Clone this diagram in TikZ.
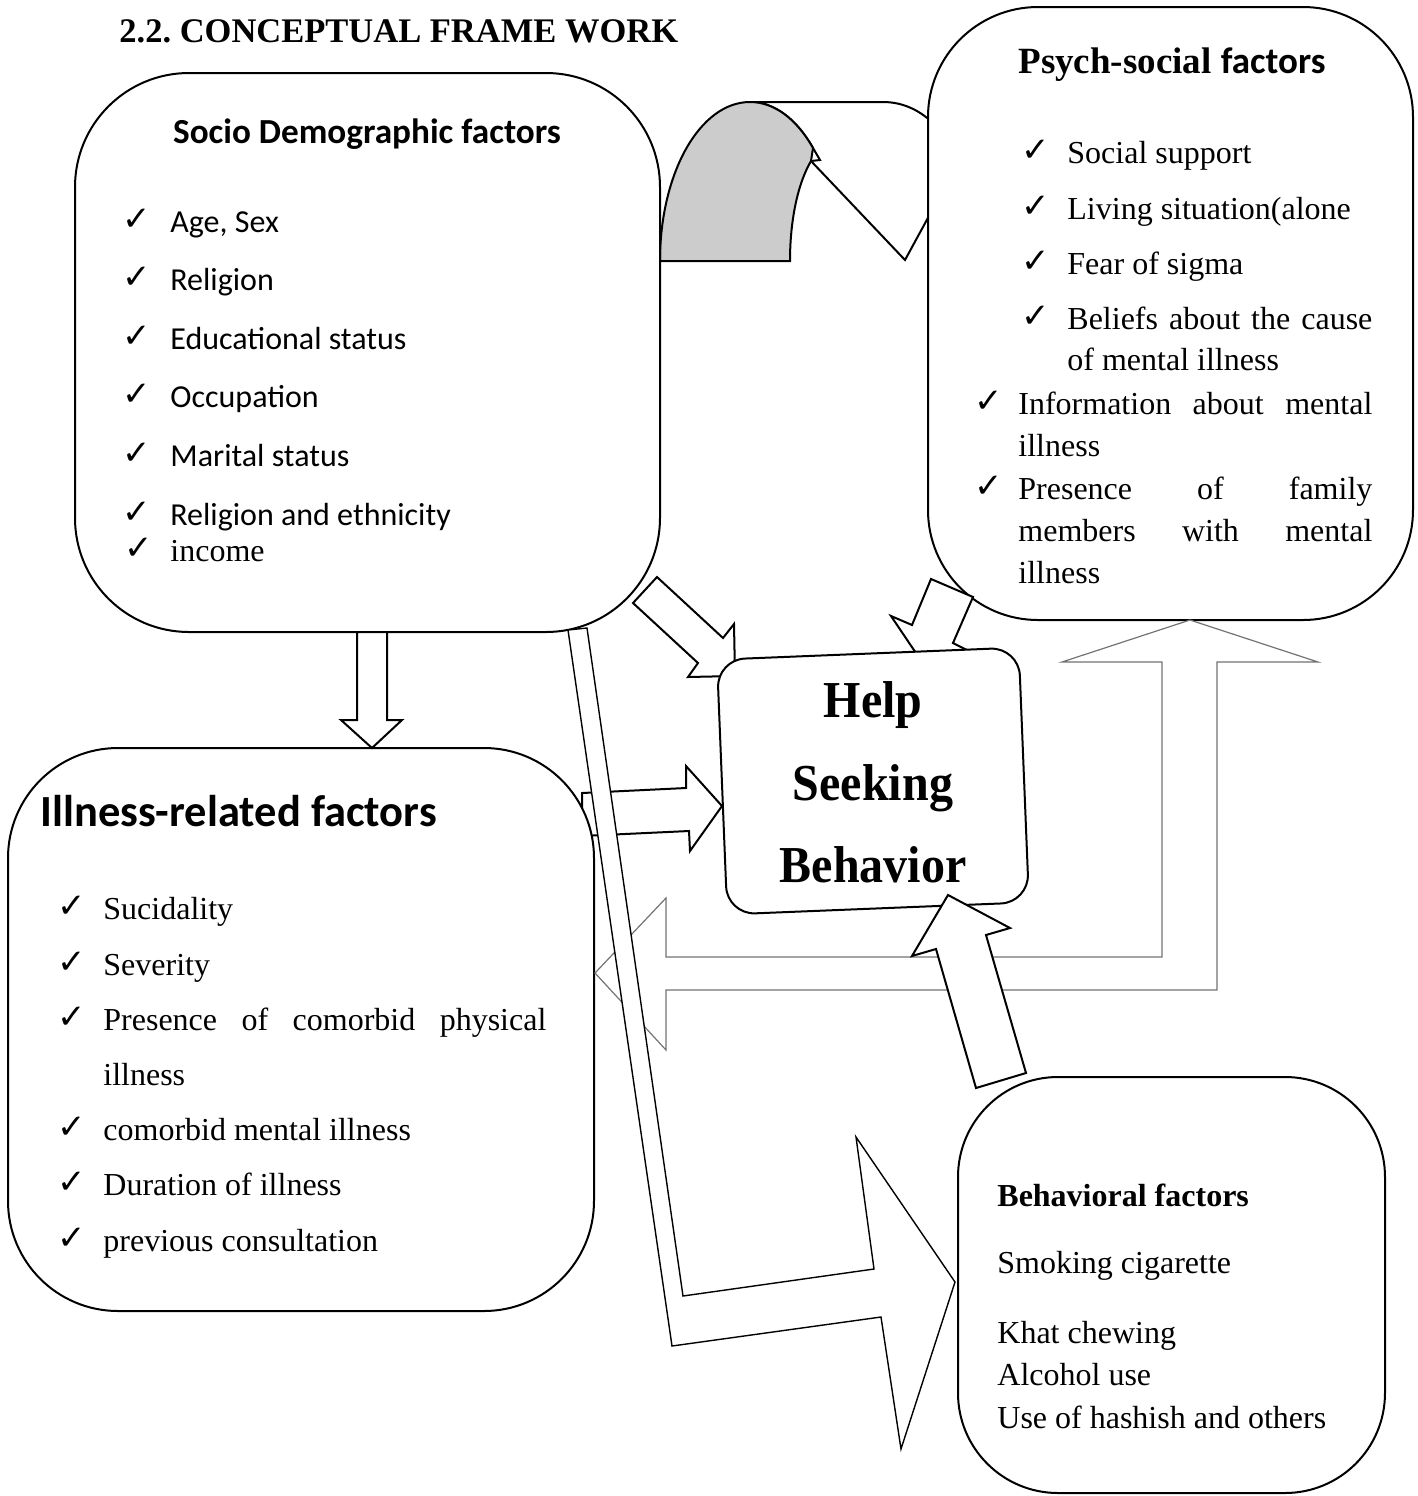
\documentclass[tikz,border=0pt]{standalone}
\usepackage{fontspec}
\usepackage{graphicx}
\setmainfont{Liberation Serif}
\newfontfamily\calibri{Carlito}
\newfontfamily\symfont{DejaVu Sans}
\frenchspacing
\begin{document}
\begin{tikzpicture}[x=0.5pt,y=-0.5pt,
  roundbox/.style={draw, line width=1pt, fill=white, inner sep=0pt},
  blockarrow/.style={draw, line width=1pt, fill=white, line join=miter},
  slimarrow/.style={draw, line width=0.7pt, fill=white, line join=miter},
  grayarrow/.style={draw=black!55, line width=0.6pt, fill=white},
  txt/.style={inner sep=0pt, anchor=base west, font=\fontsize{16}{19}\selectfont},
  ctxt/.style={inner sep=0pt, anchor=base west, font=\calibri\fontsize{16}{19}\selectfont},
  chk/.style={inner sep=0pt, anchor=base west, font=\symfont\fontsize{17}{19}\selectfont},
  helptxt/.style={inner sep=0pt, anchor=base, font=\bfseries\fontsize{24}{28}\selectfont},
]
\useasboundingbox (0,0) rectangle (1418,1496);

% curved arrow at the top
\path[blockarrow] (750,102) -- (883,102) .. controls (905,102) and (922,112) .. (935,125)
  -- (960,159) -- (905,260) -- (811,161) -- (820,160) -- (813,148)
  .. controls (796,118) and (773.5,102) .. (750,102) -- cycle;
\path[draw, line width=1pt, fill=black!20] (660,261) .. controls (660,173) and (700,102) .. (750,102)
  .. controls (773.5,102) and (796,118) .. (813,148) -- (811,161)
  .. controls (797.5,184) and (790,221) .. (790,261) -- cycle;

% arrow from illness box to help (partly under the illness box)
\path[blockarrow] (582,793) -- (686,788) -- (686,766) -- (722,806) -- (690,851) -- (689,831) -- (582,836) -- cycle;

% boxes
\node[roundbox, rounded corners=57pt, minimum width=292.5pt, minimum height=279.5pt] (socio) at (367.5,352.5) {};
\node[roundbox, rounded corners=55pt, minimum width=242.5pt, minimum height=306.5pt] (psych) at (1170.5,313.5) {};
\node[roundbox, rounded corners=55pt, minimum width=293pt, minimum height=281.5pt] (illness) at (301,1029.5) {};
\node[roundbox, rounded corners=50pt, minimum width=213.5pt, minimum height=208pt] (behav) at (1171.5,1285) {};

% gray feedback arrow
\path[grayarrow] (1190,620) -- (1318,662) -- (1217,662) -- (1217,990) -- (666,990) -- (666,1050)
  -- (595,973) -- (666,898) -- (666,957) -- (1162,957) -- (1162,662) -- (1062,662) -- cycle;

% long bent arrow to behavioral factors
\path[slimarrow] (568,630) -- (587,628) -- (683,1296) -- (874,1269) -- (856,1137) -- (955,1282)
  -- (901,1449) -- (881,1317) -- (672,1346) -- cycle;

% down arrow socio -> illness
\path[blockarrow] (357,632) -- (387,632) -- (387,720) -- (402,720) -- (372,748) -- (341,720) -- (357,720) -- cycle;

% diagonal arrow socio -> help
\path[blockarrow] (657,577) -- (723,638) -- (734,624) -- (735,676) -- (688,677) -- (698,663) -- (633,603) -- cycle;

% psych -> help
\path[blockarrow] (931,579) -- (973,597) -- (953,643) -- (973,653) -- (922,662) -- (891,616) -- (912,625) -- cycle;

% help box
\node[roundbox, rounded corners=14pt, minimum width=151pt, minimum height=127.5pt, rotate=2.3] (help) at (873,781) {};

% behavioral -> help (on top of help box)
\path[blockarrow] (948,895) -- (1010,928) -- (986,935) -- (1026,1073) -- (976,1088) -- (936,949) -- (912,956) -- cycle;

% texts
\node[inner sep=0pt, anchor=base west, font=\bfseries\fontsize{17.25}{20}\selectfont] (title) at (119,42) {2.2. CONCEPTUAL FRAME WORK};

\node[inner sep=0pt, anchor=base, font=\calibri\bfseries\fontsize{17.6}{20}\selectfont] (sociot) at (367,143) {Socio Demographic factors};
\node[chk] (s1c) at (122,230) {✓}; \node[ctxt] (s1) at (170,232) {Age, Sex};
\node[chk] (s2c) at (122,288) {✓}; \node[ctxt] (s2) at (170,290) {Religion};
\node[chk] (s3c) at (122,347) {✓}; \node[ctxt] (s3) at (170,349) {Educational status};
\node[chk] (s4c) at (122,405) {✓}; \node[ctxt] (s4) at (170,407) {Occupation};
\node[chk] (s5c) at (122,464) {✓}; \node[ctxt] (s5) at (170,466) {Marital status};
\node[chk] (s6c) at (122,523) {✓}; \node[ctxt] (s6) at (170,525) {Religion and ethnicity};
\node[chk] (s7c) at (124,559) {✓}; \node[txt] (s7) at (170,561) {income};

\node[inner sep=0pt, anchor=base west, font=\bfseries\fontsize{18.5}{22}\selectfont] (psycht) at (1018,73) {Psych-social {\calibri factors}};
\node[chk] (p1c) at (1021,161) {✓}; \node[txt] (p1) at (1067,163) {Social support};
\node[chk] (p2c) at (1021,217) {✓}; \node[txt] (p2) at (1067,219) {Living situation(alone};
\node[chk] (p3c) at (1021,272) {✓}; \node[txt] (p3) at (1067,274) {Fear of sigma};
\node[chk] (p4c) at (1021,327) {✓}; \node[txt] (p4) at (1067,329) {\makebox[152.5pt][s]{Beliefs about the cause}};
\node[txt] (p4b) at (1067,370) {of mental illness};
\node[chk] (p5c) at (974,412) {✓}; \node[txt] (p5) at (1018,414) {\makebox[177pt][s]{Information about mental}};
\node[txt] (p5b) at (1018,456) {illness};
\node[chk] (p6c) at (974,497) {✓}; \node[txt] (p6) at (1018,499) {\makebox[177pt][s]{Presence of family}};
\node[txt] (p6b) at (1018,541) {\makebox[177pt][s]{members with mental}};
\node[txt] (p6d) at (1018,583) {illness};

\node[inner sep=0pt, anchor=base west, font=\calibri\bfseries\fontsize{22.25}{26}\selectfont] (illt) at (40,826) {Illness-related factors};
\node[chk] (i1c) at (57,917) {✓}; \node[txt] (i1) at (103,919) {Sucidality};
\node[chk] (i2c) at (57,973) {✓}; \node[txt] (i2) at (103,975) {Severity};
\node[chk] (i3c) at (57,1028) {✓}; \node[txt] (i3) at (103,1030) {\makebox[221.5pt][s]{Presence of comorbid physical}};
\node[txt] (i3b) at (103,1085) {illness};
\node[chk] (i4c) at (57,1138) {✓}; \node[txt] (i4) at (103,1140) {comorbid mental illness};
\node[chk] (i5c) at (57,1193) {✓}; \node[txt] (i5) at (103,1195) {Duration of illness};
\node[chk] (i6c) at (57,1249) {✓}; \node[txt] (i6) at (103,1251) {previous consultation};

\node[txt, font=\bfseries\fontsize{16}{19}\selectfont] (b0) at (997,1206) {Behavioral factors};
\node[txt] (b1) at (997,1273) {Smoking cigarette};
\node[txt] (b2) at (997,1343) {Khat chewing};
\node[txt] (b3) at (997,1385) {Alcohol use};
\node[txt] (b4) at (997,1428) {Use of hashish and others};

\node[helptxt] (h1) at (873,717) {\scalebox{1}[1.08]{Help}};
\node[helptxt] (h2) at (873,800) {\scalebox{1}[1.08]{Seeking}};
\node[helptxt] (h3) at (873,882) {\scalebox{1}[1.08]{Behavior}};
\end{tikzpicture}
\end{document}
